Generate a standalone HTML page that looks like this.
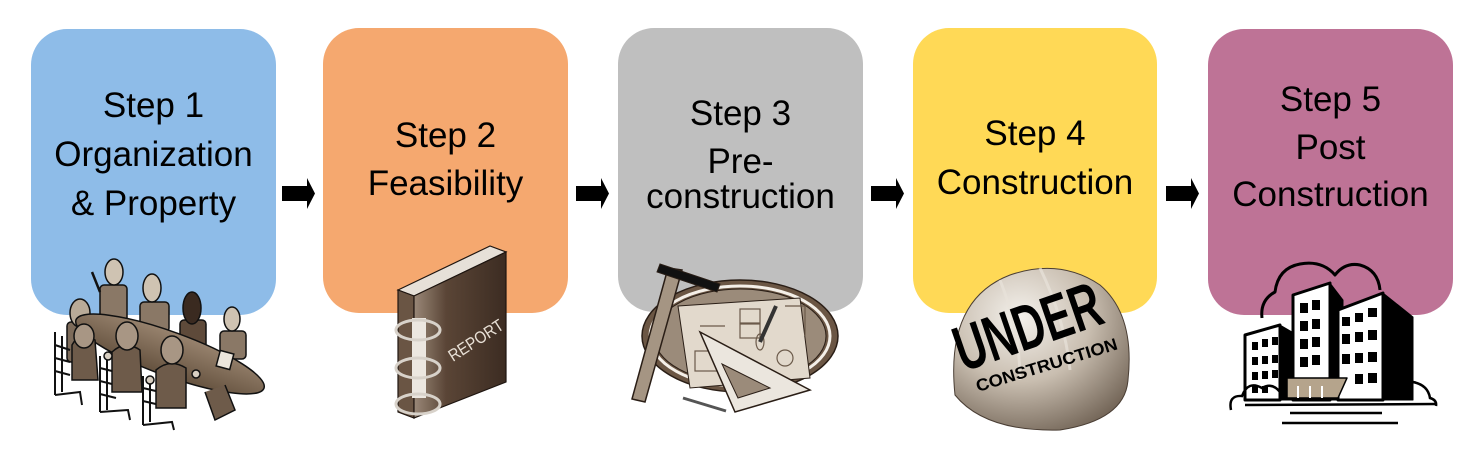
<!DOCTYPE html>
<html><head><meta charset="utf-8"><style>
html,body{margin:0;padding:0;background:#fff;}
svg{display:block;}
text{font-family:"Liberation Sans",Arial,sans-serif;}
</style></head><body>
<svg width="1474" height="458" viewBox="0 0 1474 458" xmlns="http://www.w3.org/2000/svg">
<defs>
<radialGradient id="hat" cx="0.38" cy="0.3" r="0.8">
<stop offset="0" stop-color="#f4f1ec"/><stop offset="0.5" stop-color="#c9beb0"/><stop offset="1" stop-color="#6e6052"/>
</radialGradient>
<linearGradient id="book" x1="0" y1="0" x2="1" y2="0">
<stop offset="0" stop-color="#9a8878"/><stop offset="0.35" stop-color="#5a4536"/><stop offset="1" stop-color="#3c2c22"/>
</linearGradient>
<linearGradient id="tbl" x1="0" y1="0" x2="0" y2="1">
<stop offset="0" stop-color="#98836e"/><stop offset="1" stop-color="#65523f"/>
</linearGradient>
</defs>

<!-- boxes -->
<rect x="31" y="29" width="245" height="286" rx="36" fill="#8EBCE8"/>
<rect x="323" y="28" width="245" height="285" rx="36" fill="#F5A86F"/>
<rect x="618" y="28" width="245" height="284" rx="36" fill="#BFBFBF"/>
<rect x="913" y="28" width="244" height="285" rx="36" fill="#FFD956"/>
<rect x="1208" y="29" width="245" height="286" rx="36" fill="#BE7396"/>

<!-- arrows -->
<g fill="#000">
<polygon points="282,186 307,186 307,178 315,193.5 307,209 307,201 282,201"/>
<polygon points="576,186 601,186 601,178 609,193.5 601,209 601,201 576,201"/>
<polygon points="871,186 896,186 896,178 904,193.5 896,209 896,201 871,201"/>
<polygon points="1166,186 1191,186 1191,178 1199,193.5 1191,209 1191,201 1166,201"/>
</g>

<!-- text -->
<g font-size="35" fill="#000" text-anchor="middle">
<text x="153.5" y="117">Step 1</text>
<text x="153.5" y="166">Organization</text>
<text x="153.5" y="215">&amp; Property</text>
<text x="445.5" y="147">Step 2</text>
<text x="445.5" y="195">Feasibility</text>
<text x="740.5" y="125">Step 3</text>
<text x="740.5" y="173">Pre-</text>
<text x="740.5" y="208">construction</text>
<text x="1035" y="145">Step 4</text>
<text x="1035" y="194">Construction</text>
<text x="1330.5" y="111">Step 5</text>
<text x="1330.5" y="159">Post</text>
<text x="1330.5" y="206">Construction</text>
</g>

<!-- Step 1 meeting clip art -->
<g stroke="#111" stroke-width="1.5">
<rect x="100" y="285" width="27" height="40" rx="4" fill="#8a7866"/>
<ellipse cx="114" cy="272" rx="9" ry="13" fill="#cfc3b2"/>
<line x1="100" y1="292" x2="92" y2="272" stroke-width="2.5"/>
<rect x="140" y="302" width="29" height="30" rx="4" fill="#8a7866"/>
<ellipse cx="152" cy="288" rx="9" ry="14" fill="#cfc3b2"/>
<rect x="180" y="320" width="26" height="28" rx="4" fill="#5e4a3a"/>
<ellipse cx="192" cy="308" rx="9" ry="16" fill="#3a2a20"/>
<rect x="220" y="331" width="26" height="28" rx="4" fill="#8a7866"/>
<ellipse cx="232" cy="319" rx="8" ry="12" fill="#cfc3b2"/>
<rect x="67" y="322" width="26" height="40" rx="4" fill="#7d6b5a"/>
<ellipse cx="80" cy="313" rx="10" ry="14" fill="#b9ab98"/>
<g fill="none" stroke-width="2">
<path d="M55 332 L55 395 M62 336 L62 392 M55 345 L70 350 M55 358 L70 362 M55 371 L70 375 M55 395 L80 392 L82 405"/>
<path d="M100 356 L100 412 M107 358 L107 410 M100 368 L116 372 M100 381 L116 385 M100 394 L116 398 M100 412 L128 410 L130 420"/>
<path d="M143 376 L143 425 M150 378 L150 422 M143 388 L160 392 M143 401 L160 405 M143 425 L172 422 L174 430"/>
</g>
<ellipse cx="170" cy="354" rx="100" ry="22" transform="rotate(20 170 354)" fill="url(#tbl)"/>
<path d="M205 392 L215 420 L235 410 L225 385" fill="#6e5b4a"/>
<rect x="218" y="352" width="14" height="16" fill="#ece6dc" transform="rotate(15 225 360)"/>
<path d="M72 345 Q80 330 95 340 L98 380 L72 380 Z" fill="#6e5b4a"/>
<ellipse cx="84" cy="336" rx="10" ry="12" fill="#a89684"/>
<path d="M112 352 Q125 340 140 350 L142 392 L112 392 Z" fill="#6e5b4a"/>
<ellipse cx="127" cy="336" rx="11" ry="14" fill="#a89684"/>
<path d="M156 370 Q170 358 186 368 L186 408 L156 408 Z" fill="#6e5b4a"/>
<ellipse cx="172" cy="350" rx="11" ry="14" fill="#a89684"/>
<circle cx="108" cy="356" r="4" fill="#d8cfc2"/>
<circle cx="150" cy="380" r="4" fill="#d8cfc2"/>
<circle cx="196" cy="374" r="4" fill="#d8cfc2"/>
</g>

<!-- Step 2 report binder -->
<g stroke="#1e1510" stroke-width="1.2">
<polygon points="398,290 490,246 506,252 414,296" fill="#e6e0d8"/>
<polygon points="398,290 414,296 414,418 398,412" fill="#6a5544"/>
<polygon points="414,296 506,252 506,382 414,418" fill="url(#book)"/>
<rect x="412" y="318" width="14" height="80" fill="#ece7e0" stroke="none"/>
<g fill="none" stroke="#d8d2ca" stroke-width="3">
<ellipse cx="418" cy="330" rx="22" ry="10"/>
<ellipse cx="418" cy="368" rx="22" ry="10"/>
<ellipse cx="418" cy="404" rx="22" ry="10"/>
</g>
</g>
<text x="0" y="0" font-size="17" fill="#e8e0d6" transform="translate(453 362) rotate(-33)" textLength="62" lengthAdjust="spacingAndGlyphs">REPORT</text>

<!-- Step 3 blueprint -->
<g stroke="#2a1e16" transform="translate(0 6)">
<ellipse cx="740" cy="330" rx="98" ry="56" fill="#6b5644" stroke-width="1.5"/>
<ellipse cx="740" cy="330" rx="90" ry="50" fill="none" stroke="#f4efe8" stroke-width="3"/>
<ellipse cx="740" cy="330" rx="86" ry="47" fill="#9b8b7a" stroke-width="1"/>
<polygon points="678,300 800,292 810,372 690,382" fill="#e2d9cc" stroke-width="1"/>
<g fill="none" stroke="#6b5a4a" stroke-width="1.2">
<rect x="740" y="303" width="20" height="14"/><rect x="740" y="318" width="20" height="14"/>
<ellipse cx="760" cy="336" rx="4" ry="8"/>
<circle cx="785" cy="352" r="8"/>
<rect x="695" y="345" width="30" height="20"/>
<path d="M785 300 L805 300 L805 330 M700 320 L725 320"/>
</g>
<polygon points="668,262 682,264 645,396 632,393" fill="#a59583" stroke-width="1.5"/>
<polygon points="660,258 720,278 717,286 657,266" fill="#111" stroke-width="1"/>
<polygon points="700,326 810,384 735,406" fill="#ebe6de" stroke-width="1.5"/>
<polygon points="722,358 770,382 738,392" fill="#9b8b7a" stroke-width="1"/>
<line x1="776" y1="300" x2="760" y2="336" stroke="#333" stroke-width="4"/>
<line x1="683" y1="392" x2="726" y2="405" stroke="#555" stroke-width="3"/>
</g>

<!-- Step 4 hard hat -->
<path d="M955 395 Q945 300 1010 275 Q1060 258 1100 285 Q1135 315 1128 380 Q1125 420 1060 430 Q985 432 955 395 Z" fill="url(#hat)" stroke="#4a3e34" stroke-width="1"/>
<path d="M1000 280 Q1020 330 1020 380 M1040 268 Q1065 320 1070 370" stroke="#e8e2da" stroke-width="3" fill="none" opacity="0.7"/>
<text x="0" y="0" font-size="64" font-weight="bold" fill="#000" transform="translate(963 372) rotate(-19)" textLength="152" lengthAdjust="spacingAndGlyphs">UNDER</text>
<text x="0" y="0" font-size="17" font-weight="bold" fill="#000" transform="translate(978 392) rotate(-17)" textLength="147" lengthAdjust="spacingAndGlyphs">CONSTRUCTION</text>

<!-- Step 5 buildings -->
<g stroke="#000" stroke-linejoin="round">
<path d="M1262 318 Q1260 300 1275 292 Q1278 268 1300 264 Q1322 260 1335 275 Q1345 262 1360 265 Q1378 270 1380 290" fill="none" stroke-width="3"/>
<polygon points="1330,283 1343,300 1343,400 1330,400" fill="#000"/>
<polygon points="1293,295 1330,283 1330,400 1293,400" fill="#fff" stroke-width="3"/>
<polygon points="1383,293 1413,317 1413,400 1383,400" fill="#000"/>
<polygon points="1338,310 1383,293 1383,400 1338,400" fill="#fff" stroke-width="3"/>
<polygon points="1280,325 1292,332 1292,400 1280,400" fill="#000"/>
<polygon points="1245,335 1280,325 1280,400 1245,400" fill="#fff" stroke-width="3"/>
<polygon points="1287,378 1347,378 1338,398 1287,398" fill="#b5a48c" stroke-width="1.5"/>
</g>
<g fill="#000">
<rect x="1300" y="303" width="8" height="10"/><rect x="1312" y="300" width="8" height="10"/>
<rect x="1300" y="321" width="8" height="10"/><rect x="1312" y="319" width="8" height="10"/>
<rect x="1300" y="339" width="8" height="10"/><rect x="1312" y="337" width="8" height="10"/>
<rect x="1300" y="357" width="8" height="10"/><rect x="1312" y="355" width="8" height="10"/>
<rect x="1342" y="317" width="8" height="9"/><rect x="1355" y="313" width="8" height="9"/><rect x="1368" y="308" width="9" height="9"/>
<rect x="1342" y="334" width="8" height="10"/><rect x="1355" y="332" width="8" height="10"/><rect x="1368" y="330" width="9" height="10"/>
<rect x="1342" y="354" width="8" height="10"/><rect x="1355" y="353" width="8" height="10"/><rect x="1368" y="352" width="9" height="10"/>
<rect x="1355" y="374" width="8" height="10"/><rect x="1368" y="373" width="9" height="10"/>
<rect x="1252" y="342" width="6" height="8"/><rect x="1262" y="339" width="6" height="8"/><rect x="1272" y="337" width="6" height="8"/>
<rect x="1252" y="357" width="6" height="8"/><rect x="1262" y="356" width="6" height="8"/><rect x="1272" y="355" width="6" height="8"/>
<rect x="1252" y="372" width="6" height="8"/><rect x="1262" y="371" width="6" height="8"/><rect x="1272" y="370" width="6" height="8"/>
<rect x="1252" y="386" width="6" height="7"/><rect x="1262" y="386" width="6" height="7"/>
</g>
<g stroke="#fff" stroke-width="2"><line x1="1298" y1="386" x2="1298" y2="398"/><line x1="1310" y1="386" x2="1310" y2="398"/><line x1="1322" y1="386" x2="1322" y2="398"/></g>
<g fill="none" stroke="#000" stroke-width="2.5">
<path d="M1231 410 Q1228 395 1242 396 Q1248 380 1262 388 Q1272 382 1280 392"/>
<path d="M1413 382 Q1428 385 1430 398 Q1437 400 1436 406"/>
<line x1="1245" y1="405" x2="1436" y2="404"/>
<line x1="1290" y1="413" x2="1382" y2="413"/>
<line x1="1282" y1="423" x2="1398" y2="423"/>
</g>
</svg>
</body></html>
